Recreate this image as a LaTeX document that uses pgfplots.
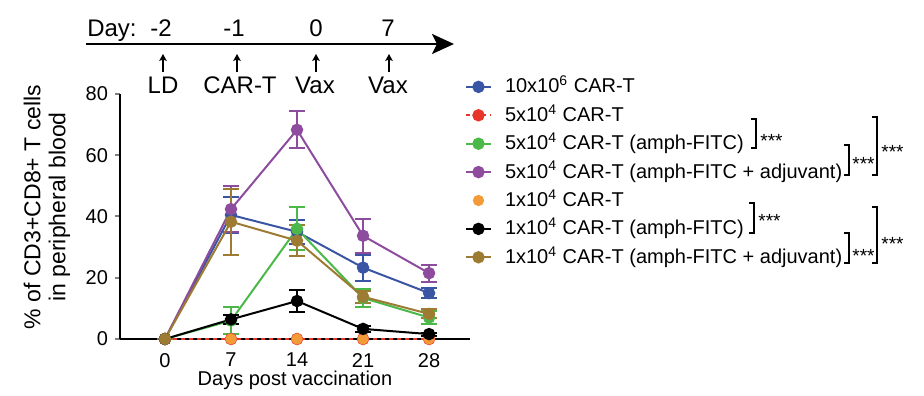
\documentclass[border=0pt]{standalone}
\usepackage{pgfplots}
\pgfplotsset{compat=1.18}
\usepackage{pgfplotstable}
\usepackage{fontspec}
\setmainfont{Liberation Sans}
\usetikzlibrary{arrows.meta}

\definecolor{cblue}{HTML}{3B55A5}
\definecolor{cred}{HTML}{E8352B}
\definecolor{cgreen}{HTML}{4CB84A}
\definecolor{cpurple}{HTML}{8E4C9F}
\definecolor{corange}{HTML}{F29B38}
\definecolor{cbrown}{HTML}{9E7B33}

\pgfplotstableread{
x y e
0 0 0
7 40.5 6
14 35 4
21 23.3 4.2
28 15 1.5
}\tblue
\pgfplotstableread{
x y e
0 0 0
7 0 0
14 0 0
21 0 0
28 0 0
}\tred
\pgfplotstableread{
x y e
0 0 0
7 6 4.5
14 36 7
21 13.4 2.8
28 7 2
}\tgreen
\pgfplotstableread{
x y e
0 0 0
7 42.4 7.5
14 68.3 6
21 33.7 5.6
28 21.5 2.8
}\tpurple
\pgfplotstableread{
x y e
0 0 0
7 0 0
14 0 0
21 0 0
28 0 0
}\torange
\pgfplotstableread{
x y e
0 0 0
7 6.4 1.5
14 12.4 3.5
21 3.3 1
28 1.6 0.5
}\tblack
\pgfplotstableread{
x y e
0 0 0
7 38.3 10.8
14 32.1 5
21 13.8 2
28 8.2 1.5
}\tbrown

\pgfplotsset{
  ser/.style={color=#1, line width=1pt, mark=*, mark size=2.6pt,
    mark options={solid, fill=#1, draw=#1},
    error bars/y dir=both, error bars/y explicit,
    error bars/error bar style={line width=1pt, color=#1, solid},
    error bars/error mark options={rotate=90, mark size=4pt, line width=1pt, color=#1}},
}

\newcommand{\brk}[5]{%
  \draw[line width=1pt] (#1-5,#2) -- (#1,#2) -- (#1,#3) -- (#1-5,#3);
  \node[anchor=base west, inner sep=0pt, font=\fontsize{9.5}{11}\selectfont] at (#4,#5) {***};}

\begin{document}
\begin{tikzpicture}
\begin{scope}[x=0.5pt, y=-0.5pt, xshift=-60pt, yshift=169.5pt]
  \useasboundingbox (0,0) rectangle (924,394);
\end{scope}

\begin{axis}[
  scale only axis, width=175pt, height=122.5pt,
  at={(0,0)}, anchor=south west,
  xmin=-4.77, xmax=32.34, ymin=0, ymax=80,
  axis x line*=bottom, axis y line*=left,
  axis line style={-, line width=1pt},
  xtick={0,7,14,21,28}, ytick={0,20,40,60,80},
  xtick style={draw=none},
  ytick style={line width=1pt},
  tick align=outside, major tick length=2.5pt,
  /pgf/number format/assume math mode=true,
  tick label style={font=\fontsize{10}{12}\selectfont},
  xticklabel style={yshift=-1pt},
  clip=false,
  every axis x label/.style={at={(axis description cs:0.5,-0.167)}, anchor=center, font=\fontsize{10}{12}\selectfont},
  every axis y label/.style={at={(axis description cs:-0.209,0.539)}, rotate=90, anchor=center, align=center, font=\fontsize{11.5}{12.5}\selectfont},
  xlabel={Days post vaccination},
  ylabel={\% of CD3+CD8+ T cells\\in peripheral blood},
  legend cell align=left,
  legend style={draw=none, fill=none, inner sep=0pt, outer sep=0pt,
    at={(0.9857,1.078)}, anchor=north west,
    font=\fontsize{10}{12}\selectfont,
    row sep=2.2pt, column sep=6.5pt,
    nodes={inner sep=0pt, text height=9pt, text depth=3pt}},
  legend image code/.code={\draw[mark repeat=2,mark phase=2,#1] plot coordinates {(0pt,0pt) (6.25pt,0pt) (12.5pt,0pt)};},
]
\addplot[ser=cblue] table[x=x,y=y,y error=e] {\tblue};
\addlegendentry{10x10\textsuperscript{6} CAR-T}
\addplot[color=cred, line width=1pt, dash pattern=on 2pt off 2pt, mark=*, mark size=2.6pt, mark options={solid, fill=cred}] table[x=x,y=y] {\tred};
\addlegendentry{5x10\textsuperscript{4} CAR-T}
\addplot[ser=cgreen] table[x=x,y=y,y error=e] {\tgreen};
\addlegendentry{5x10\textsuperscript{4} CAR-T (amph-FITC)}
\addplot[ser=cpurple] table[x=x,y=y,y error=e] {\tpurple};
\addlegendentry{5x10\textsuperscript{4} CAR-T (amph-FITC + adjuvant)}
\addplot[only marks, color=corange, mark=*, mark size=2.6pt, mark options={fill=corange},
  legend image code/.code={\fill[corange] (6.25pt,0pt) circle (2.6pt);}] table[x=x,y=y] {\torange};
\addlegendentry{1x10\textsuperscript{4} CAR-T}
\addplot[ser=black] table[x=x,y=y,y error=e] {\tblack};
\addlegendentry{1x10\textsuperscript{4} CAR-T (amph-FITC)}
\addplot[ser=cbrown] table[x=x,y=y,y error=e] {\tbrown};
\addlegendentry{1x10\textsuperscript{4} CAR-T (amph-FITC + adjuvant)}
\end{axis}

\begin{scope}[x=0.5pt, y=-0.5pt, xshift=-60pt, yshift=169.5pt]
  % timeline
  \begin{scope}[font=\fontsize{12}{14}\selectfont, every node/.style={anchor=base, inner sep=0pt}]
    \node at (112,37) {Day:};
    \node at (161,37) {-2};
    \node at (234,37) {-1};
    \node at (316,37) {0};
    \node at (388,37) {7};
    \draw[line width=1.3pt, -{Stealth[length=11pt,width=10pt,inset=2.5pt]}] (86,44) -- (454,44);
    \foreach \xx in {163,237,316,389} {
      \draw[line width=0.8pt, -{Stealth[length=3.5pt,width=3.8pt,inset=0.8pt]}] (\xx,72) -- (\xx,54);
    }
    \node at (163,94) {LD};
    \node at (240,94) {CAR-T};
    \node at (315,94) {Vax};
    \node at (388,94) {Vax};
  \end{scope}
  % significance brackets
  \brk{756}{119}{148}{760}{148}
  \brk{849}{145}{175}{852}{171}
  \brk{877}{117}{175}{881}{159}
  \brk{754}{203}{233}{758}{228}
  \brk{849}{233}{263}{852}{263}
  \brk{877}{207}{263}{881}{251}
\end{scope}
\end{tikzpicture}
\end{document}
